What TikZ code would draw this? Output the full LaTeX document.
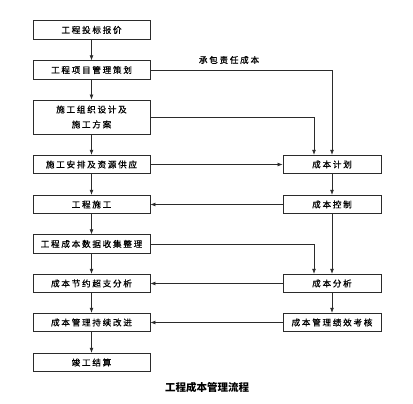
\documentclass[tikz,border=0pt]{standalone}
\usepackage{fontspec}
\setmainfont{Noto Sans CJK SC}
\newfontfamily\cjk[LetterSpace=20, FakeBold=0.6]{Noto Sans CJK SC}
\usetikzlibrary{arrows.meta, positioning}
\definecolor{cmline}{HTML}{2B2B2B}
\begin{document}
\begin{tikzpicture}[x=1pt, y=-1pt, font=\cjk\fontsize{8.6}{15}\selectfont,
      blk/.style={draw=cmline, line width=0.9pt, fill=white, inner sep=0pt, align=center, minimum height=18.5pt},
      lbox/.style={blk, minimum width=117pt},
      rbox/.style={blk, minimum width=98pt},
      arr/.style={-{Latex[length=5pt, width=4pt]}, cmline, line width=0.7pt}]
      \useasboundingbox (0,0) rectangle (413,404);
      % left chain
      \node[lbox] (b1) at (91.5,30) {工程投标报价};
      \node[lbox] (b2) at (91.5,70) {工程项目管理策划};
      \node[lbox, minimum height=34pt] (b3) at (91.5,117) {施工组织设计及\\施工方案};
      \node[lbox] (b4) at (91.5,164.5) {施工安排及资源供应};
      \node[lbox] (b5) at (91.5,204.5) {工程施工};
      \node[lbox] (b6) at (91.5,244) {工程成本数据收集整理};
      \node[lbox] (b7) at (91.5,283.5) {成本节约超支分析};
      \node[lbox] (b8) at (91.5,322.5) {成本管理持续改进};
      \node[lbox] (b9) at (91.5,362.5) {竣工结算};
      % right chain
      \node[rbox] (plan) at (332,164.5) {成本计划};
      \node[rbox] (ctrl) at (332,204.5) {成本控制};
      \node[rbox] (anal) at (332,283.5) {成本分析};
      \node[rbox] (eval) at (332,322.5) {成本管理绩效考核};
      \node (resp) at (229,60) {承包责任成本};
      \node[font=\bfseries\fontsize{10.5}{12}\selectfont] (title) at (207,387) {工程成本管理流程};
      \foreach \a/\b in {b1/b2, b2/b3, b3/b4, b4/b5, b5/b6, b6/b7, b7/b8, b8/b9}
        \draw[arr] (\a) -- (\b);
      \draw[arr] (b2.east) -| (plan.north);
      \draw[arr] (b3.east) -| ([xshift=-18pt]plan.north);
      \draw[arr] (b4) -- (plan);
      \draw[arr] (plan) -- (ctrl);
      \draw[arr] (ctrl) -- (b5);
      \draw[arr] (ctrl) -- (anal);
      \draw[arr] (b6.east) -| ([xshift=-18pt]anal.north);
      \draw[arr] (anal) -- (b7);
      \draw[arr] (anal) -- (eval);
      \draw[arr] (eval) -- (b8);
    \end{tikzpicture}
\end{document}
